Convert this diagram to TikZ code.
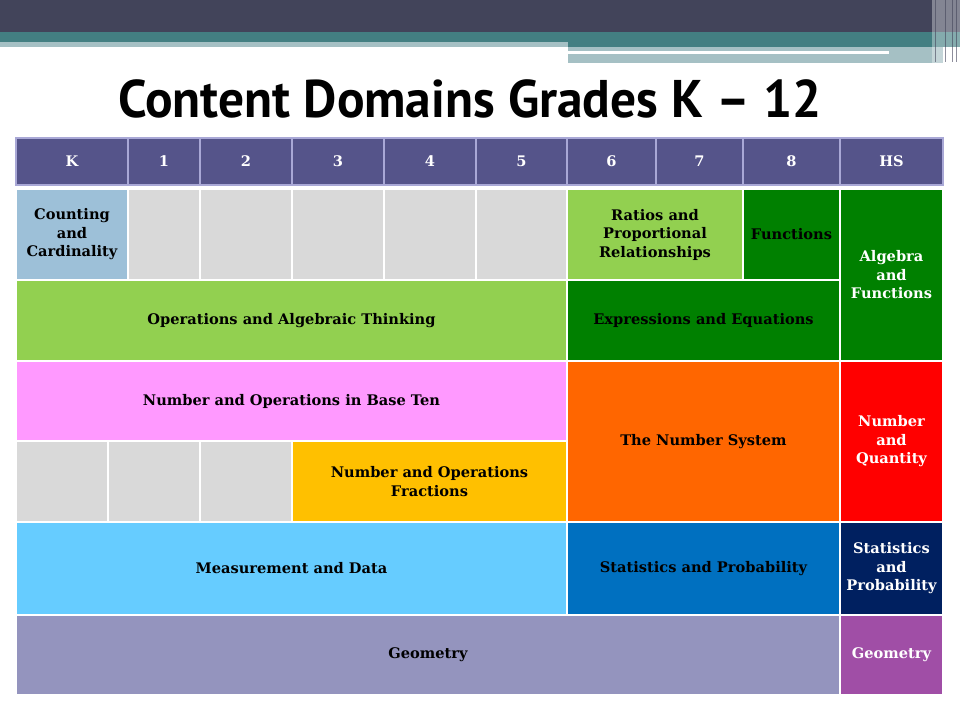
\documentclass[tikz,border=0pt]{standalone}
\usepackage{fontspec}
\setmainfont{DejaVu Serif}
\newfontfamily\titlefont{PT Sans}

\definecolor{topdark}{HTML}{42445A}
\definecolor{topteal}{HTML}{437F82}
\definecolor{toplight}{HTML}{A5C0C4}
\definecolor{headblue}{HTML}{55548A}
\definecolor{headline}{HTML}{A9A8D6}
\definecolor{ccblue}{HTML}{9DC0D8}
\definecolor{blank}{HTML}{D9D9D9}
\definecolor{lgreen}{HTML}{92D050}
\definecolor{dgreen}{HTML}{008000}
\definecolor{pinkcell}{HTML}{FF99FF}
\definecolor{nsorange}{HTML}{FF6600}
\definecolor{nqred}{HTML}{FF0000}
\definecolor{gold}{HTML}{FFC000}
\definecolor{skyblue}{HTML}{66CCFF}
\definecolor{spblue}{HTML}{0070C0}
\definecolor{navy}{HTML}{002060}
\definecolor{geolav}{HTML}{9494BE}
\definecolor{geopurple}{HTML}{A04EA6}

\begin{document}
\begin{tikzpicture}[
                x=1pt, y=-1pt,
                cell/.style = {
                    draw=white,
                    fill=#1,
                    line width = 1.2pt,
                    anchor = north west,
                    inner sep = 2pt,
                    outer sep = 0pt,
                    align = center,
                    font = \bfseries\fontsize{14.6}{18.5}\selectfont
                },
                cell/.default = blank,
                head/.style = {
                    cell=headblue,
                    draw=headline,
                    text=white,
                    minimum height = 47pt
                }
            ]
            \useasboundingbox (0,0) rectangle (960,720);
            %
            % top bands
            \fill[topdark] (0,0) rectangle (960,32);
            \fill[topteal] (0,32) rectangle (960,42);
            \fill[toplight] (0,42) rectangle (568,47);
            \fill[topteal] (568,42) rectangle (960,47);
            \fill[toplight] (568,47) rectangle (943,63);
            \fill[white] (568,51) rectangle (889,54);
            \fill[white, opacity=0.35] (932,0) rectangle (960,63);
            \foreach \xs in {935,945,952,956}
                \draw[topdark, opacity=0.6, line width=1pt] (\xs,0) -- (\xs,62);
            %
            \node[anchor=base, font=\titlefont\bfseries\fontsize{53}{60}\selectfont] (title) at (470,117)
                {\scalebox{0.97}[1]{Content Domains Grades K – 12}};
            %
            % header
            \node[head, minimum width=112pt] (hk) at (16,138) {K};
            \node[head, minimum width=72pt] (h1) at (hk.north east) {1};
            \node[head, minimum width=92pt] (h2) at (h1.north east) {2};
            \node[head, minimum width=92pt] (h3) at (h2.north east) {3};
            \node[head, minimum width=92pt] (h4) at (h3.north east) {4};
            \node[head, minimum width=91pt] (h5) at (h4.north east) {5};
            \node[head, minimum width=89pt] (h6) at (h5.north east) {6};
            \node[head, minimum width=87pt] (h7) at (h6.north east) {7};
            \node[head, minimum width=97pt] (h8) at (h7.north east) {8};
            \node[head, minimum width=103pt] (hhs) at (h8.north east) {HS};
            %
            % first row
            \node[cell=ccblue, minimum width=112pt, minimum height=91pt] (cc) at ([yshift=-4pt]hk.south west) {Counting\\and\\Cardinality};
            \node[cell, minimum width=72pt, minimum height=91pt] (g1) at (cc.north east) {};
            \node[cell, minimum width=92pt, minimum height=91pt] (g2) at (g1.north east) {};
            \node[cell, minimum width=92pt, minimum height=91pt] (g3) at (g2.north east) {};
            \node[cell, minimum width=92pt, minimum height=91pt] (g4) at (g3.north east) {};
            \node[cell, minimum width=91pt, minimum height=91pt] (g5) at (g4.north east) {};
            \node[cell=lgreen, minimum width=176pt, minimum height=91pt] (rat) at (g5.north east) {Ratios and\\Proportional\\Relationships};
            \node[cell=dgreen, minimum width=97pt, minimum height=91pt] (fun) at (rat.north east) {Functions};
            \node[cell=dgreen, text=white, minimum width=103pt, minimum height=172pt] (alg) at (fun.north east) {Algebra\\and\\Functions};
            %
            % second row
            \node[cell=lgreen, minimum width=551pt, minimum height=81pt] (oat) at (cc.south west) {Operations and Algebraic Thinking};
            \node[cell=dgreen, minimum width=273pt, minimum height=81pt] (ee) at (oat.north east) {Expressions and Equations};
            %
            % third and fourth rows
            \node[cell=pinkcell, minimum width=551pt, minimum height=80pt] (nbt) at (oat.south west) {Number and Operations in Base Ten};
            \node[cell=nsorange, minimum width=273pt, minimum height=161pt] (ns) at (nbt.north east) {The Number System};
            \node[cell=nqred, text=white, minimum width=103pt, minimum height=161pt] (nq) at (ns.north east) {Number\\and\\Quantity};
            \node[cell, minimum width=92pt, minimum height=81pt] (b1) at (nbt.south west) {};
            \node[cell, minimum width=92pt, minimum height=81pt] (b2) at (b1.north east) {};
            \node[cell, minimum width=92pt, minimum height=81pt] (b3) at (b2.north east) {};
            \node[cell=gold, minimum width=275pt, minimum height=81pt] (nf) at (b3.north east) {Number and Operations\\Fractions};
            %
            % fifth row
            \node[cell=skyblue, minimum width=551pt, minimum height=93pt] (md) at (b1.south west) {Measurement and Data};
            \node[cell=spblue, minimum width=273pt, minimum height=93pt] (sp) at (md.north east) {Statistics and Probability};
            \node[cell=navy, text=white, minimum width=103pt, minimum height=93pt] (sphs) at (sp.north east) {Statistics\\and\\Probability};
            %
            % last row
            \node[cell=geolav, minimum width=824pt, minimum height=80pt] (geo) at (md.south west) {Geometry};
            \node[cell=geopurple, text=white, minimum width=103pt, minimum height=80pt] (geohs) at (geo.north east) {Geometry};
            %
        \end{tikzpicture}
\end{document}
